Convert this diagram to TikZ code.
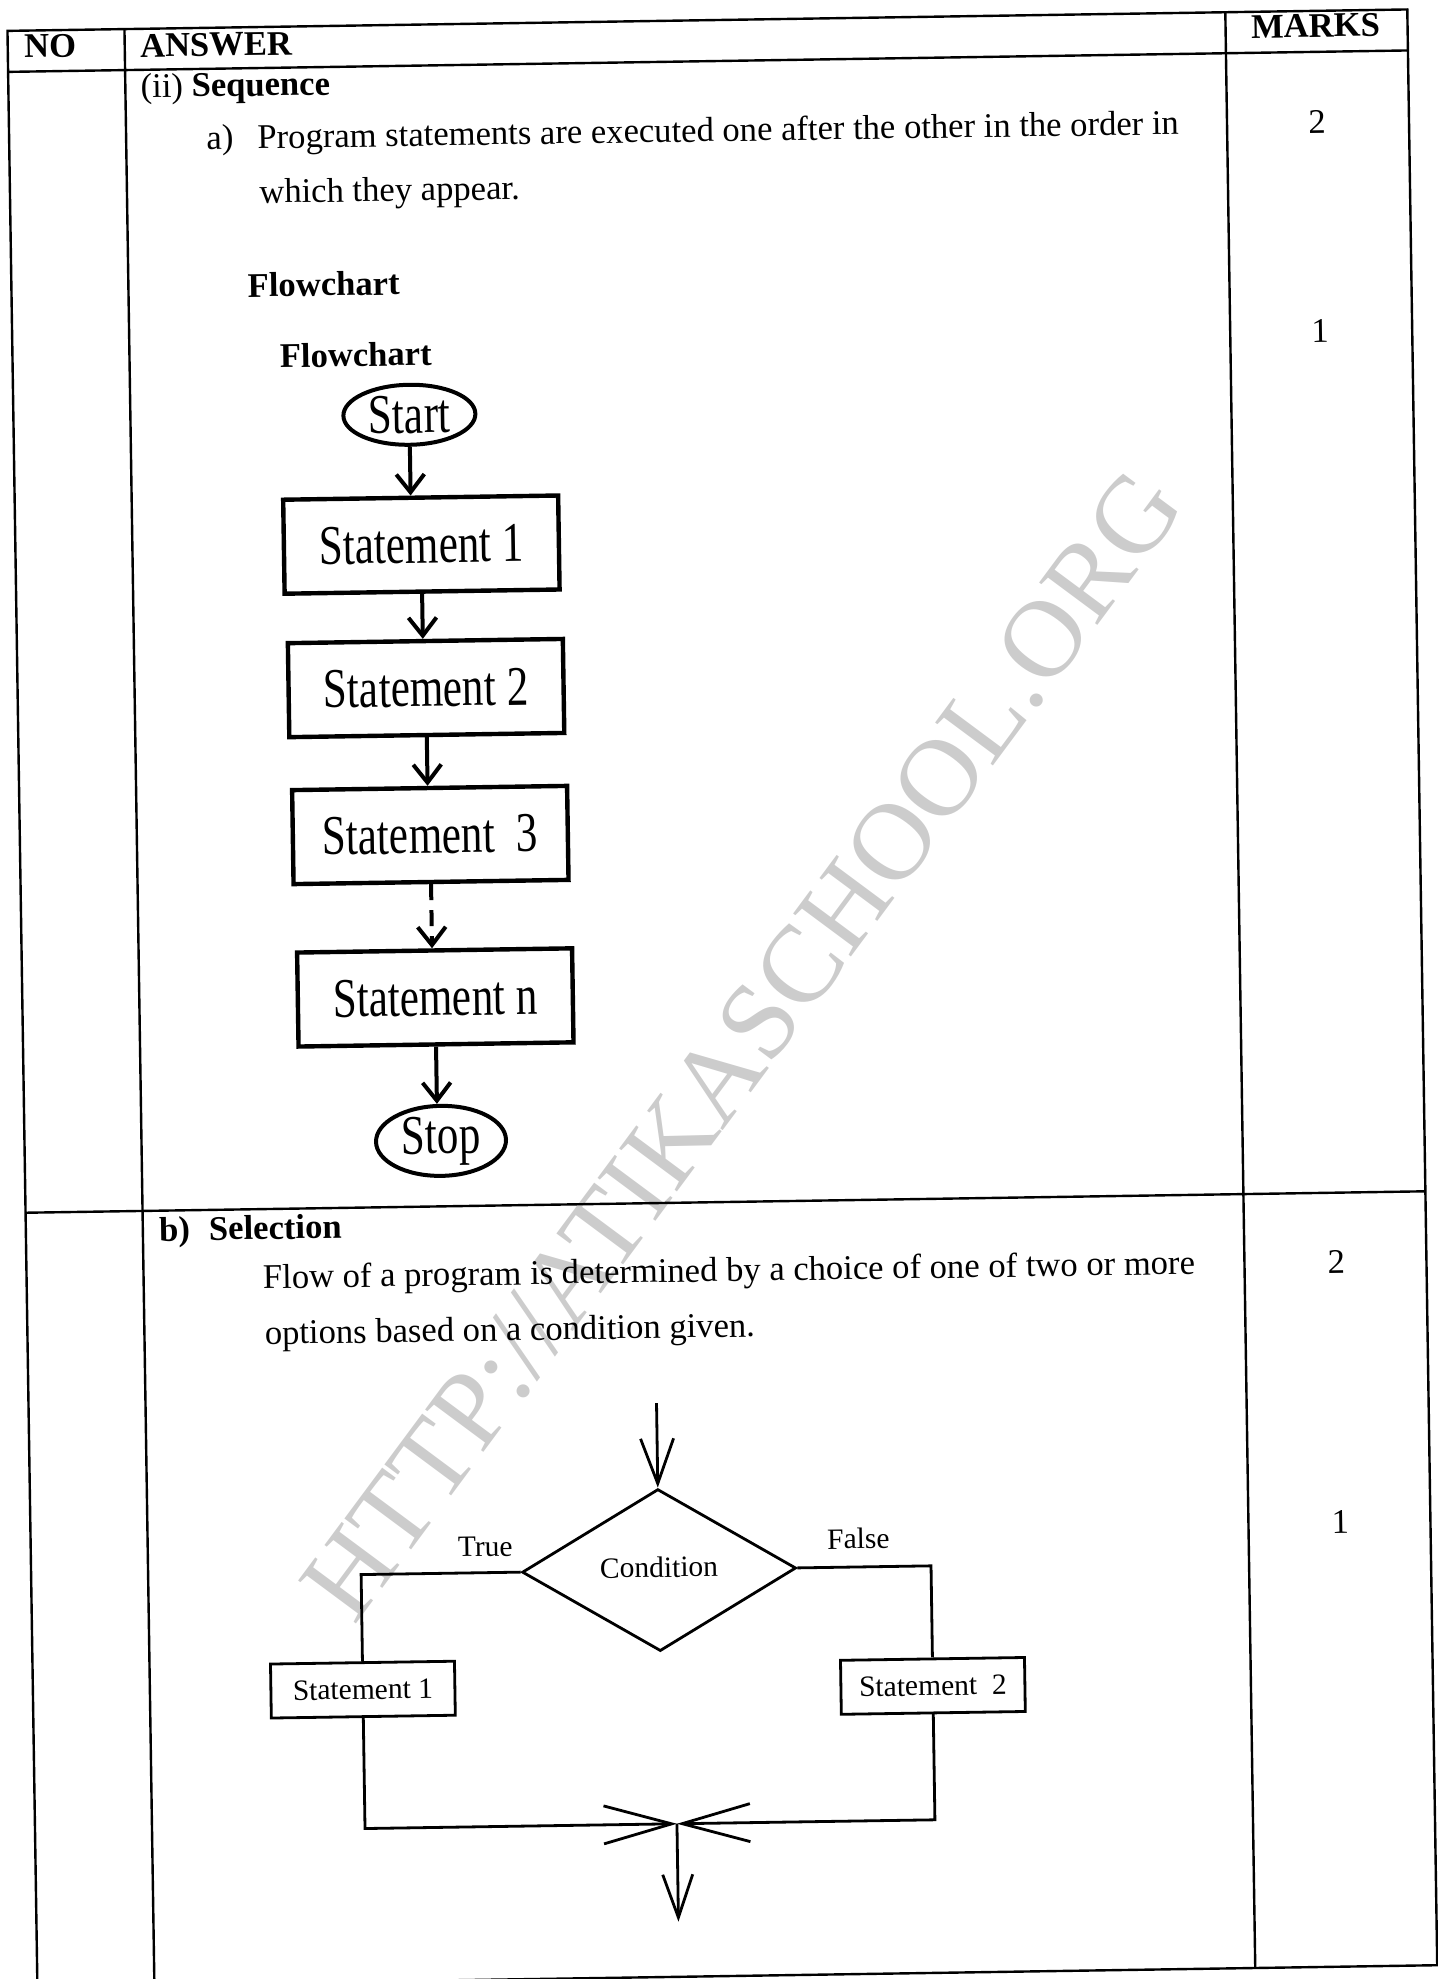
\documentclass[tikz,border=0pt]{standalone}
\usepackage{fontspec}
\setmainfont{Liberation Serif}
\newfontfamily\chartfont[FakeStretch=0.77]{Liberation Serif}
\usetikzlibrary{arrows.meta, shapes.geometric}

\begin{document}
\begin{tikzpicture}[x=0.5pt, y=-0.5pt,
  every node/.style={font=\fontsize{17.3}{21}\selectfont},
  rule/.style={line width=1.2pt},
  txt/.style={anchor=west, inner sep=0pt},
  score/.style={inner sep=0pt},
  stmt/.style={draw, rectangle, line width=2.2pt, minimum width=137.5pt, minimum height=47pt, inner sep=0pt, font=\chartfont\fontsize{28}{30}\selectfont},
  term/.style={draw, ellipse, line width=2pt, inner sep=0pt, font=\chartfont\fontsize{28}{30}\selectfont},
  seqarrow/.style={line width=2pt, -{Straight Barb[length=9pt, width=14pt]}},
  selbox/.style={draw, rectangle, line width=1.4pt, inner sep=0pt, minimum width=92pt, minimum height=27pt, font=\fontsize{14.75}{17}\selectfont},
  sel/.style={line width=1.4pt}]
\useasboundingbox (0,0) rectangle (1437,1979);
% watermark
\node[rotate=53.4, text=black!20, font=\fontsize{55}{60}\selectfont] (wm) at (742,1045) {HTTP://ATIKASCHOOL.ORG};

\begin{scope}[rotate=0.877, transform shape]
% table
\draw[rule] (7,31) rectangle (1407,1987);
\draw[rule] (7,72) -- (1407,72);
\draw[rule] (7,1213) -- (1407,1213);
\draw[rule] (124,31) -- (124,1987);
\draw[rule] (1225,31) -- (1225,1987);
\node[txt, font=\bfseries\fontsize{17.3}{21}\selectfont] (hno) at (23,47) {NO};
\node[txt, font=\bfseries\fontsize{17.3}{21}\selectfont] (hans) at (139,48) {ANSWER};
\node[score, font=\bfseries\fontsize{17.3}{21}\selectfont] (hmarks) at (1315,46) {MARKS};

% sequence
\node[txt] (seqhead) at (139,91.5) {(ii) \textbf{Sequence}};
\node[txt] (itema) at (204,144) {a)};
\node[txt] (defa) at (255,144) {Program statements are executed one after the other in the order in};
\node[txt] (defb) at (256,199) {which they appear.};
\node[txt, font=\bfseries\fontsize{17.3}{21}\selectfont] (fchead) at (243,289) {Flowchart};
\node[txt, font=\bfseries\fontsize{17.3}{21}\selectfont] (fctitle) at (274,360) {Flowchart};
\node[score] (sa) at (1315,142) {2};
\node[score] (sb) at (1315,351) {1};

\node[term, minimum width=66pt, minimum height=30pt] (start) at (403,421) {Start};
\node[stmt] (st1) at (413,551) {Statement 1};
\node[stmt] (st2) at (415.5,694.5) {Statement 2};
\node[stmt] (st3) at (417.5,841.5) {Statement~~3};
\node[stmt] (stn) at (420,1004) {Statement n};
\node[term, minimum width=65pt, minimum height=35pt] (stop) at (423.5,1147.5) {Stop};
\draw[seqarrow] (start) -- (start |- st1.north);
\draw[seqarrow] (st1) -- (st1 |- st2.north);
\draw[seqarrow] (st2) -- (st2 |- st3.north);
\draw[seqarrow, dash pattern=on 8pt off 5pt] (st3) -- (st3 |- stn.north);
\draw[seqarrow] (stn) -- (stn |- stop.north);

% selection
\node[txt, font=\bfseries\fontsize{17.3}{21}\selectfont] (selhead) at (140,1235) {b)\hspace{0.55em}Selection};
\node[txt] (defc) at (243,1284) {Flow of a program is determined by a choice of one of two or more};
\node[txt] (defd) at (244,1340) {options based on a condition given.};
\node[score] (sc) at (1317,1282) {2};
\node[score] (sd) at (1317,1542) {1};

\node[diamond, draw, line width=1.4pt, inner sep=0pt, minimum width=137pt, minimum height=81pt, font=\fontsize{14.75}{17}\selectfont] (cond) at (635,1580) {\raisebox{3pt}{Condition}};
\node[selbox] (sel1) at (337,1695) {Statement 1};
\node[selbox] (sel2) at (907,1700) {Statement~~2};
\coordinate (cin) at (635,1413);
\coordinate (join) at (649,1834);
\coordinate (cout) at (649,1932);
\draw[sel, -{Straight Barb[length=22.5pt, width=16.5pt]}] (cin) -- (cond.north);
\draw[sel] (cond.west) -| node[pos=0.11, above=4pt, font=\fontsize{14.75}{17}\selectfont] (ltrue) {True} (sel1.north);
\draw[sel] (cond.east) -| node[pos=0.23, above=5pt, font=\fontsize{14.75}{17}\selectfont] (lfalse) {False} (sel2.north);
\draw[sel, -{Straight Barb[length=34pt, width=19pt]}] (sel1.south) |- (join);
\draw[sel, -{Straight Barb[length=34pt, width=19pt]}] (sel2.south) |- (join);
\draw[sel, -{Straight Barb[length=21.5pt, width=15pt]}] (join) -- (cout);
\end{scope}
\end{tikzpicture}
\end{document}
